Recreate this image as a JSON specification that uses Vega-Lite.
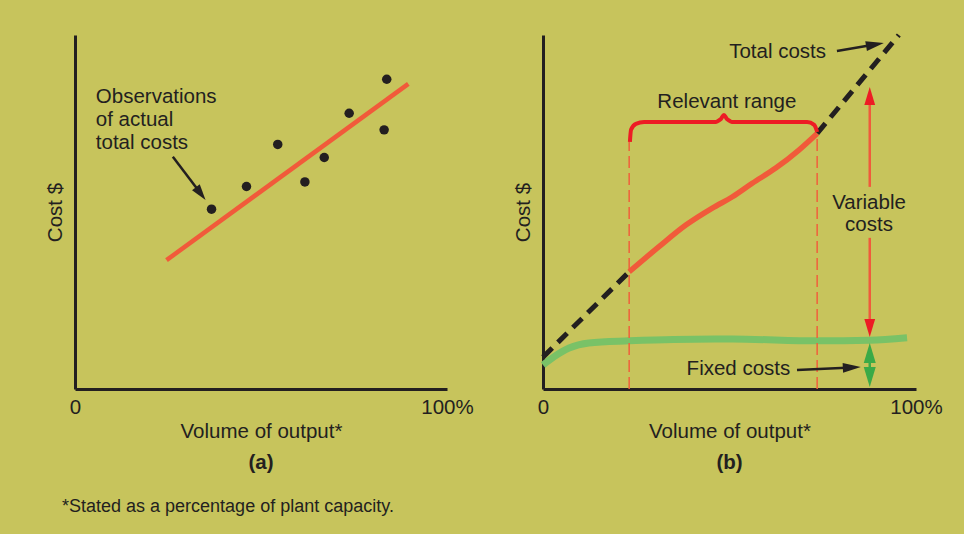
{
  "$schema": "https://vega.github.io/schema/vega-lite/v6.json",
  "background": "#c7c45c",
  "padding": {"left": 45, "top": 25, "right": 32, "bottom": 22},
  "title": {"text": "*Stated as a percentage of plant capacity.", "orient": "bottom", "anchor": "start", "fontSize": 18, "fontWeight": "normal", "color": "#231f20", "offset": 24, "dx": 17},
  "spacing": 39,
  "config": {
    "font": "Liberation Sans",
    "view": {"stroke": null},
    "axis": {"domainColor": "#231f20", "domainWidth": 3, "ticks": false, "grid": false, "labelFontSize": 20.5, "labelColor": "#231f20", "titleFontSize": 20.5, "titleFontWeight": "normal", "titleColor": "#231f20"},
    "title": {"color": "#231f20"}
  },
  "hconcat": [
    {
      "width": 372,
      "height": 354,
      "title": {"text": "(a)", "orient": "bottom", "fontSize": 20.5, "fontWeight": "bold", "offset": 11},
      "layer": [
        {
          "data": {"values": [{"x": 24.6, "y": 36.4}, {"x": 89.6, "y": 86.2}]},
          "mark": {"type": "line", "color": "#f15a3a", "strokeWidth": 4.5, "clip": false},
          "encoding": {
            "x": {"field": "x", "type": "quantitative", "scale": {"domain": [0, 100], "nice": false}, "axis": {"values": [0, 100], "labelExpr": "datum.value == 0 ? '0' : '100%'", "labelFlush": false, "labelPadding": 8, "title": "Volume of output*", "titlePadding": 4}},
            "y": {"field": "y", "type": "quantitative", "scale": {"domain": [0, 100], "nice": false}, "axis": {"labels": false, "title": "Cost $", "titlePadding": 10}}
          }
        },
        {
          "data": {"values": [{"x": 36.7, "y": 50.8}, {"x": 46.1, "y": 57.2}, {"x": 54.5, "y": 69.1}, {"x": 61.8, "y": 58.5}, {"x": 67.0, "y": 65.4}, {"x": 73.7, "y": 77.9}, {"x": 83.1, "y": 73.2}, {"x": 83.8, "y": 87.5}]},
          "mark": {"type": "point", "shape": "circle", "filled": true, "color": "#231f20", "opacity": 1, "size": 90},
          "encoding": {"x": {"field": "x", "type": "quantitative"}, "y": {"field": "y", "type": "quantitative"}}
        },
        {
          "data": {"values": [{"x": 5.6, "y": 82.6, "t": "Observations"}, {"x": 5.6, "y": 76.0, "t": "of actual"}, {"x": 5.6, "y": 69.5, "t": "total costs"}]},
          "mark": {"type": "text", "align": "left", "baseline": "middle", "fontSize": 20.5, "color": "#231f20"},
          "encoding": {"x": {"field": "x", "type": "quantitative"}, "y": {"field": "y", "type": "quantitative"}, "text": {"field": "t"}}
        },
        {
          "data": {"values": [{"x": 26.3, "y": 65.6}, {"x": 33.8, "y": 55.2}]},
          "mark": {"type": "line", "color": "#231f20", "strokeWidth": 2.5},
          "encoding": {"x": {"field": "x", "type": "quantitative"}, "y": {"field": "y", "type": "quantitative"}}
        },
        {
          "data": {"values": [{"x": 33.8, "y": 55.2}]},
          "mark": {"type": "point", "shape": "M1,0L-1,-0.6L-1,0.6Z", "filled": true, "color": "#231f20", "opacity": 1, "size": 256, "angle": 52.7},
          "encoding": {"x": {"field": "x", "type": "quantitative"}, "y": {"field": "y", "type": "quantitative"}}
        }
      ]
    },
    {
      "width": 373,
      "height": 354,
      "title": {"text": "(b)", "orient": "bottom", "fontSize": 20.5, "fontWeight": "bold", "offset": 11},
      "layer": [
        {
          "data": {"values": [{"x": 0, "y": 6.8}, {"x": 2.9, "y": 9.1}, {"x": 7, "y": 11.6}, {"x": 12.3, "y": 13.0}, {"x": 23.1, "y": 13.6}, {"x": 35, "y": 14.0}, {"x": 50.8, "y": 14.1}, {"x": 73.5, "y": 13.6}, {"x": 87.6, "y": 13.8}, {"x": 97.6, "y": 14.5}]},
          "mark": {"type": "line", "color": "#79c267", "strokeWidth": 7, "interpolate": "monotone", "clip": false},
          "encoding": {
            "x": {"field": "x", "type": "quantitative", "scale": {"domain": [0, 100], "nice": false}, "axis": {"values": [0, 100], "labelExpr": "datum.value == 0 ? '0' : '100%'", "labelFlush": false, "labelPadding": 8, "title": "Volume of output*", "titlePadding": 4}},
            "y": {"field": "y", "type": "quantitative", "scale": {"domain": [0, 100], "nice": false}, "axis": {"labels": false, "title": "Cost $", "titlePadding": 10}}
          }
        },
        {
          "data": {"values": [{"x": 23.1, "y": 0, "y2": 70.1}, {"x": 73.5, "y": 0, "y2": 72.2}]},
          "mark": {"type": "rule", "color": "#f0603c", "strokeWidth": 1.5, "strokeDash": [12, 5]},
          "encoding": {"x": {"field": "x", "type": "quantitative"}, "y": {"field": "y", "type": "quantitative"}, "y2": {"field": "y2"}}
        },
        {
          "data": {"values": [{"x": 0, "y": 9.0, "seg": 1}, {"x": 23.1, "y": 33.1, "seg": 1}, {"x": 73.5, "y": 72.2, "seg": 2}, {"x": 95.4, "y": 100, "seg": 2}]},
          "mark": {"type": "line", "color": "#231f20", "strokeWidth": 5, "strokeDash": [13, 8], "clip": false},
          "encoding": {"x": {"field": "x", "type": "quantitative"}, "y": {"field": "y", "type": "quantitative"}, "detail": {"field": "seg"}}
        },
        {
          "data": {"values": [{"x": 23.1, "y": 33.1}, {"x": 31.1, "y": 40.2}, {"x": 38.3, "y": 46.3}, {"x": 45.4, "y": 51.1}, {"x": 50.8, "y": 54.3}, {"x": 56.1, "y": 58.1}, {"x": 62.4, "y": 62.4}, {"x": 68.6, "y": 67.5}, {"x": 73.5, "y": 72.2}]},
          "mark": {"type": "line", "color": "#f15a3a", "strokeWidth": 5.5, "interpolate": "monotone"},
          "encoding": {"x": {"field": "x", "type": "quantitative"}, "y": {"field": "y", "type": "quantitative"}}
        },
        {
          "data": {"values": [{"x": 23.3, "y": 69.8}, {"x": 23.6, "y": 73.2}, {"x": 24.9, "y": 74.9}, {"x": 27.1, "y": 75.4}, {"x": 45.8, "y": 75.4}, {"x": 47.7, "y": 76.3}, {"x": 48.5, "y": 77.4}, {"x": 49.3, "y": 76.3}, {"x": 51.2, "y": 75.4}, {"x": 70.8, "y": 75.4}, {"x": 72.7, "y": 74.6}, {"x": 73.5, "y": 72.6}]},
          "mark": {"type": "line", "color": "#ed1c24", "strokeWidth": 4, "interpolate": "monotone"},
          "encoding": {"x": {"field": "x", "type": "quantitative"}, "y": {"field": "y", "type": "quantitative"}}
        },
        {
          "data": {"values": [{"x": 87.6, "y": 57.1, "y2": 82.0}, {"x": 87.6, "y": 18.0, "y2": 42.7}]},
          "mark": {"type": "rule", "color": "#f05a3c", "strokeWidth": 2.5},
          "encoding": {"x": {"field": "x", "type": "quantitative"}, "y": {"field": "y", "type": "quantitative"}, "y2": {"field": "y2"}}
        },
        {
          "data": {"values": [{"x": 87.6, "y": 82.8}]},
          "mark": {"type": "point", "shape": "M1,0L-1,-0.6L-1,0.6Z", "filled": true, "color": "#ed1c24", "opacity": 1, "size": 324, "angle": -90},
          "encoding": {"x": {"field": "x", "type": "quantitative"}, "y": {"field": "y", "type": "quantitative"}}
        },
        {
          "data": {"values": [{"x": 87.6, "y": 17.2}]},
          "mark": {"type": "point", "shape": "M1,0L-1,-0.6L-1,0.6Z", "filled": true, "color": "#ed1c24", "opacity": 1, "size": 324, "angle": 90},
          "encoding": {"x": {"field": "x", "type": "quantitative"}, "y": {"field": "y", "type": "quantitative"}}
        },
        {
          "data": {"values": [{"x": 87.6, "y": 3.5, "y2": 10.0}]},
          "mark": {"type": "rule", "color": "#3aaa47", "strokeWidth": 2.5},
          "encoding": {"x": {"field": "x", "type": "quantitative"}, "y": {"field": "y", "type": "quantitative"}, "y2": {"field": "y2"}}
        },
        {
          "data": {"values": [{"x": 87.6, "y": 10.2}]},
          "mark": {"type": "point", "shape": "M1,0L-1,-0.6L-1,0.6Z", "filled": true, "color": "#3aaa47", "opacity": 1, "size": 400, "angle": -90},
          "encoding": {"x": {"field": "x", "type": "quantitative"}, "y": {"field": "y", "type": "quantitative"}}
        },
        {
          "data": {"values": [{"x": 87.6, "y": 3.4}]},
          "mark": {"type": "point", "shape": "M1,0L-1,-0.6L-1,0.6Z", "filled": true, "color": "#3aaa47", "opacity": 1, "size": 400, "angle": 90},
          "encoding": {"x": {"field": "x", "type": "quantitative"}, "y": {"field": "y", "type": "quantitative"}}
        },
        {
          "data": {"values": [{"x": 78.8, "y": 95.5, "a": 1}, {"x": 89.0, "y": 97.3, "a": 1}, {"x": 68.1, "y": 5.4, "a": 2}, {"x": 82.8, "y": 6.1, "a": 2}]},
          "mark": {"type": "line", "color": "#231f20", "strokeWidth": 2.5, "clip": false},
          "encoding": {"x": {"field": "x", "type": "quantitative"}, "y": {"field": "y", "type": "quantitative"}, "detail": {"field": "a"}}
        },
        {
          "data": {"values": [{"x": 89.0, "y": 97.3}]},
          "mark": {"type": "point", "shape": "M1,0L-1,-0.55L-1,0.55Z", "filled": true, "color": "#231f20", "opacity": 1, "size": 324, "angle": -9.7},
          "encoding": {"x": {"field": "x", "type": "quantitative"}, "y": {"field": "y", "type": "quantitative"}}
        },
        {
          "data": {"values": [{"x": 82.8, "y": 6.1}]},
          "mark": {"type": "point", "shape": "M1,0L-1,-0.55L-1,0.55Z", "filled": true, "color": "#231f20", "opacity": 1, "size": 324, "angle": -2.7},
          "encoding": {"x": {"field": "x", "type": "quantitative"}, "y": {"field": "y", "type": "quantitative"}}
        },
        {
          "data": {"values": [{"x": 62.9, "y": 95.2, "t": "Total costs"}, {"x": 49.3, "y": 81.1, "t": "Relevant range"}, {"x": 87.4, "y": 52.5, "t": "Variable"}, {"x": 87.4, "y": 46.3, "t": "costs"}, {"x": 52.4, "y": 5.6, "t": "Fixed costs"}]},
          "mark": {"type": "text", "align": "center", "baseline": "middle", "fontSize": 20.5, "color": "#231f20"},
          "encoding": {"x": {"field": "x", "type": "quantitative"}, "y": {"field": "y", "type": "quantitative"}, "text": {"field": "t"}}
        }
      ]
    }
  ]
}
